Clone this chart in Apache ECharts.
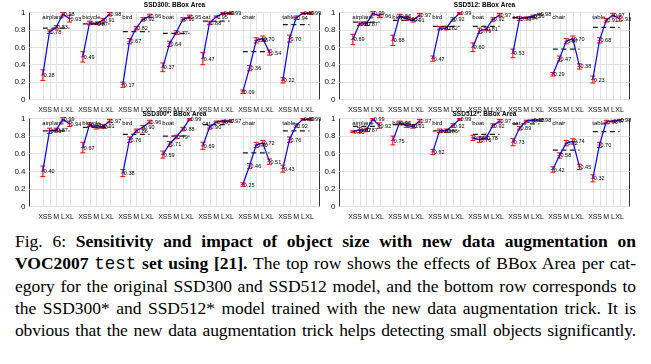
<!DOCTYPE html>
<html>
<head>
<meta charset="utf-8">
<script src="https://cdn.jsdelivr.net/npm/echarts@6/dist/echarts.min.js"></script>
<style>
  html, body { margin: 0; padding: 0; background: #fff; }
  #wrap { position: relative; width: 651px; height: 364px; overflow: hidden; }
  #chart { position: absolute; left: 0; top: 0; width: 651px; height: 226px; }
  #cap { position: absolute; left: 15px; top: 230px; width: 621px;
         font-family: 'Liberation Serif', 'DejaVu Serif', serif; font-size: 17.5px;
         line-height: 22px; color: #000; }
  #cap .l { text-align: justify; text-align-last: justify; white-space: nowrap; }
  #cap .tt { font-family: 'Liberation Mono', monospace; font-weight: normal; }
</style>
</head>
<body>
<div id="wrap">
  <div id="chart"></div>
  <div id="cap">
    <div class="l">Fig.&nbsp;6: <b>Sensitivity and impact of object size with new data augmentation on</b></div>
    <div class="l"><b>VOC2007 <span class="tt">test</span> set using [21].</b> The top row shows the effects of BBox Area per cat-</div>
    <div class="l">egory for the original SSD300 and SSD512 model, and the bottom row corresponds to</div>
    <div class="l">the SSD300* and SSD512* model trained with the new data augmentation trick. It is</div>
    <div class="l" style="letter-spacing:-0.15px">obvious that the new data augmentation trick helps detecting small objects significantly.</div>
  </div>
</div>
<script>
// ---------------- data ----------------
const categories = ['airplane', 'bicycle', 'bird', 'boat', 'cat', 'chair', 'table'];
const sizeLabels = ['XS', 'S', 'M', 'L', 'XL'];
const panelTitles = ['SSD300: BBox Area', 'SSD512: BBox Area', 'SSD300*: BBox Area', 'SSD512*: BBox Area'];
const yTicks = [0, 0.2, 0.4, 0.6, 0.8, 1];

// values in order: per category XS, S, M, L, XL
const ssd300Values = [
  0.28, 0.78, 0.83, 0.98, 0.93,
  0.49, 0.88, 0.87, 0.91, 0.98,
  0.17, 0.67, 0.82, 0.92, 0.96,
  0.37, 0.64, 0.77, 0.92, 0.95,
  0.47, 0.88, 0.95, 0.99, 0.99,
  0.09, 0.36, 0.68, 0.70, 0.54,
  0.22, 0.70, 0.94, 0.99, 0.99
];
const ssd300Errors = [
  0.06, 0.02, 0.02, 0.02, 0.04,
  0.06, 0.02, 0.01, 0.02, 0.02,
  0.03, 0.03, 0.02, 0.02, 0.02,
  0.05, 0.03, 0.02, 0.02, 0.02,
  0.07, 0.02, 0.01, 0.01, 0.01,
  0.02, 0.03, 0.03, 0.03, 0.03,
  0.03, 0.04, 0.02, 0.01, 0.01
];
const ssd300Avg = [0.82, 0.87, 0.78, 0.76, 0.90, 0.55, 0.86];

const ssd512Values = [
  0.69, 0.87, 0.87, 0.99, 0.96,
  0.68, 0.96, 0.93, 0.91, 0.97,
  0.47, 0.82, 0.82, 0.92, 0.99,
  0.60, 0.79, 0.81, 0.92, 0.97,
  0.53, 0.93, 0.94, 0.96, 0.98,
  0.29, 0.47, 0.67, 0.70, 0.38,
  0.23, 0.68, 0.91, 0.97, 0.93
];
const ssd512Errors = [
  0.06, 0.02, 0.02, 0.02, 0.02,
  0.06, 0.02, 0.02, 0.02, 0.02,
  0.03, 0.02, 0.02, 0.02, 0.01,
  0.05, 0.03, 0.02, 0.02, 0.02,
  0.05, 0.02, 0.01, 0.01, 0.01,
  0.02, 0.03, 0.03, 0.03, 0.03,
  0.04, 0.03, 0.02, 0.02, 0.03
];
const ssd512Avg = [0.89, 0.91, 0.84, 0.84, 0.94, 0.58, 0.83];

const ssd300sValues = [
  0.40, 0.86, 0.87, 0.99, 0.94,
  0.67, 0.93, 0.90, 0.91, 0.97,
  0.38, 0.76, 0.86, 0.90, 0.96,
  0.59, 0.71, 0.79, 0.88, 0.99,
  0.69, 0.90, 0.96, 0.97, 0.97,
  0.25, 0.46, 0.70, 0.72, 0.51,
  0.43, 0.76, 0.92, 0.99, 0.99
];
const ssd300sErrors = [
  0.06, 0.03, 0.02, 0.02, 0.03,
  0.06, 0.02, 0.02, 0.02, 0.02,
  0.04, 0.03, 0.02, 0.02, 0.02,
  0.04, 0.03, 0.02, 0.02, 0.01,
  0.04, 0.02, 0.01, 0.01, 0.01,
  0.02, 0.03, 0.03, 0.03, 0.03,
  0.04, 0.03, 0.02, 0.01, 0.01
];
const ssd300sAvg = [0.86, 0.90, 0.82, 0.80, 0.93, 0.61, 0.86];

const ssd512sValues = [
  0.85, 0.87, 0.87, 0.99, 0.92,
  0.75, 0.95, 0.92, 0.91, 0.97,
  0.62, 0.86, 0.86, 0.92, 0.99,
  0.78, 0.76, 0.78, 0.92, 0.97,
  0.73, 0.89, 0.97, 0.98, 0.98,
  0.42, 0.58, 0.72, 0.74, 0.45,
  0.32, 0.70, 0.96, 0.97, 0.98
];
const ssd512sErrors = [
  0.01, 0.03, 0.02, 0.01, 0.03,
  0.05, 0.02, 0.02, 0.02, 0.02,
  0.03, 0.02, 0.02, 0.02, 0.01,
  0.03, 0.03, 0.02, 0.02, 0.02,
  0.04, 0.02, 0.01, 0.01, 0.01,
  0.03, 0.03, 0.03, 0.03, 0.03,
  0.04, 0.03, 0.02, 0.01, 0.01
];
const ssd512sAvg = [0.91, 0.93, 0.86, 0.82, 0.94, 0.64, 0.85];

// ---------------- layout / style ----------------
const panels = [
  { title: panelTitles[0], values: ssd300Values, errors: ssd300Errors, avg: ssd300Avg },
  { title: panelTitles[1], values: ssd512Values, errors: ssd512Errors, avg: ssd512Avg },
  { title: panelTitles[2], values: ssd300sValues, errors: ssd300sErrors, avg: ssd300sAvg },
  { title: panelTitles[3], values: ssd512sValues, errors: ssd512sErrors, avg: ssd512sAvg }
];
const grids = [
  { left: 29.5, top: 12.5, width: 290, height: 87 },
  { left: 339.5, top: 12.5, width: 290, height: 87 },
  { left: 29.5, top: 118.5, width: 290, height: 88 },
  { left: 339.5, top: 118.5, width: 290, height: 88 }
];
const titleOffsets = [7, 7, 4.5, 4.5];
const GROUP = 6, OFFSET = 2, XMAX = 43.5;
const FONT = 'Liberation Sans, Arial, sans-serif';
function pos(j, k) { return GROUP * j + OFFSET + k; }
const positions = [];
categories.forEach((c, j) => sizeLabels.forEach((s, k) => positions.push(pos(j, k))));
function labelAt(v) {
  const r = Math.round(v);
  if (Math.abs(v - r) > 1e-6) return '';
  const j = Math.floor((r - OFFSET) / GROUP), k = (r - OFFSET) - j * GROUP;
  if (j < 0 || j >= categories.length || k < 0 || k >= sizeLabels.length) return '';
  return sizeLabels[k];
}

const chart = echarts.init(document.getElementById('chart'), null, { renderer: 'canvas' });

const option = {
  animation: false,
  backgroundColor: '#fff',
  grid: grids.map(g => Object.assign({ show: true, borderColor: '#333', borderWidth: 1, backgroundColor: 'transparent' }, g)),
  xAxis: grids.map((g, i) => ({
    type: 'value', gridIndex: i, min: 0, max: XMAX, interval: 1,
    axisLine: { show: false }, axisTick: { show: false }, splitLine: { show: false },
    axisLabel: { formatter: labelAt, fontSize: 7, color: '#111', margin: 7.5, fontFamily: FONT, showMaxLabel: false }
  })),
  yAxis: grids.map((g, i) => ({
    type: 'value', gridIndex: i, min: 0, max: 1, interval: 0.2,
    axisLine: { show: false }, axisTick: { show: false },
    splitLine: { lineStyle: { color: '#e2e2e2', width: 1 } },
    axisLabel: {
      fontSize: 8, color: '#111', margin: 4, fontFamily: FONT,
      formatter: v => (yTicks.indexOf(Math.round(v * 10) / 10) >= 0 ? String(Math.round(v * 10) / 10) : '')
    }
  })),
  graphic: grids.map((g, i) => ({
    type: 'text', x: g.left + g.width / 2, y: g.top - titleOffsets[i],
    style: { text: panels[i].title, fill: '#000', font: 'bold 6.5px ' + FONT, align: 'center', verticalAlign: 'middle' }
  })),
  series: []
};

panels.forEach((p, i) => {
  // vertical grid lines at each size position
  option.series.push({
    type: 'custom', xAxisIndex: i, yAxisIndex: i, silent: true, z: 1,
    data: positions.map(x => [x, 0]),
    renderItem: (params, api) => {
      const x = api.value(0);
      const a = api.coord([x, 0]), b = api.coord([x, 1]);
      return { type: 'line', shape: { x1: Math.round(a[0]) + 0.5, y1: a[1], x2: Math.round(a[0]) + 0.5, y2: b[1] },
               style: { stroke: '#e2e2e2', lineWidth: 1 } };
    }
  });
  // dashed averages
  categories.forEach((c, j) => {
    option.series.push({
      type: 'line', xAxisIndex: i, yAxisIndex: i, silent: true, z: 2, symbol: 'none',
      data: [[pos(j, 0), p.avg[j]], [pos(j, 4), p.avg[j]]],
      lineStyle: { color: '#1a1a1a', width: 1.3, type: [5, 3.5] }
    });
  });
  // error bars
  option.series.push({
    type: 'custom', xAxisIndex: i, yAxisIndex: i, silent: true, z: 3,
    data: positions.map((x, n) => [x, p.values[n], p.errors[n]]),
    renderItem: (params, api) => {
      const x = api.value(0), y = api.value(1), e = api.value(2);
      const lo = api.coord([x, y - e]), hi = api.coord([x, y + e]), c = api.coord([x, y]);
      const st = { stroke: '#ff0000', lineWidth: 1 };
      const w = 2.5;
      return { type: 'group', children: [
        { type: 'line', shape: { x1: lo[0], y1: lo[1], x2: hi[0], y2: hi[1] }, style: st },
        { type: 'line', shape: { x1: lo[0] - w, y1: lo[1], x2: lo[0] + w, y2: lo[1] }, style: st },
        { type: 'line', shape: { x1: hi[0] - w, y1: hi[1], x2: hi[0] + w, y2: hi[1] }, style: st },
        { type: 'line', shape: { x1: c[0] - 2, y1: c[1], x2: c[0] + 2, y2: c[1] }, style: { stroke: '#ff3030', lineWidth: 1 } }
      ] };
    }
  });
  // blue lines per category
  categories.forEach((c, j) => {
    option.series.push({
      type: 'line', xAxisIndex: i, yAxisIndex: i, silent: true, z: 4, symbol: 'none',
      data: sizeLabels.map((s, k) => [pos(j, k), p.values[j * 5 + k]]),
      lineStyle: { color: '#0000ff', width: 1.2 }
    });
  });
  // value labels
  option.series.push({
    type: 'custom', xAxisIndex: i, yAxisIndex: i, silent: true, z: 5,
    data: positions.map((x, n) => [x, p.values[n]]),
    renderItem: (params, api) => {
      const x = api.value(0), y = api.value(1);
      const c = api.coord([x, y]);
      return { type: 'text', x: c[0] + 1, y: c[1] + 0.5,
               style: { text: y.toFixed(2), fill: '#000', font: '5.5px ' + FONT, align: 'left', verticalAlign: 'middle' } };
    }
  });
  // category names
  option.series.push({
    type: 'custom', xAxisIndex: i, yAxisIndex: i, silent: true, z: 5,
    data: categories.map((c, j) => [pos(j, 0), 0.95, j]),
    renderItem: (params, api) => {
      const c = api.coord([api.value(0), api.value(1)]);
      return { type: 'text', x: c[0] - 0.5, y: c[1],
               style: { text: categories[api.value(2)], fill: '#000', font: '6px ' + FONT, align: 'left', verticalAlign: 'middle' } };
    }
  });
});

chart.setOption(option);
</script>
</body>
</html>
